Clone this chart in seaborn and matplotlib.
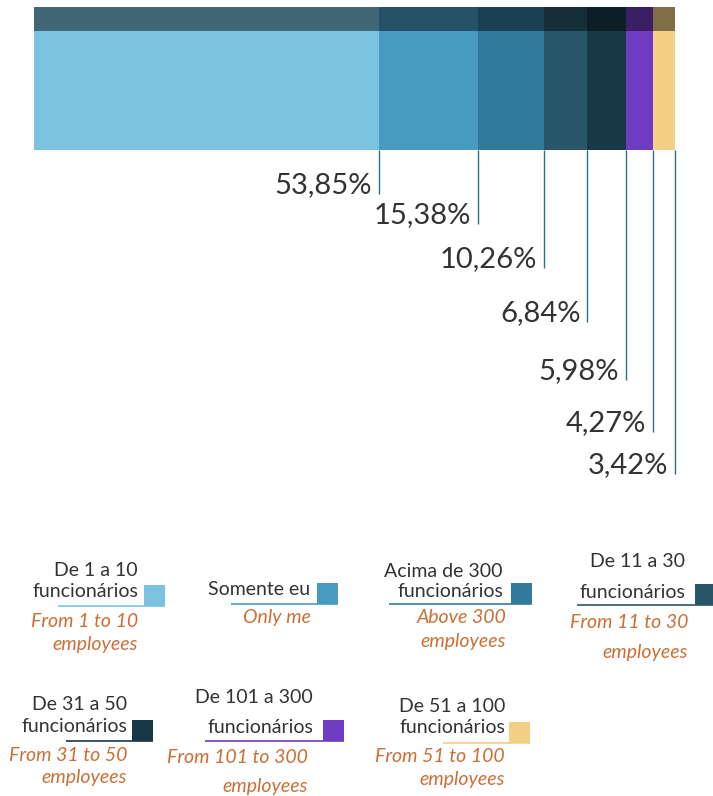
import numpy as np
import pandas as pd
import matplotlib
matplotlib.use("Agg")
import matplotlib.pyplot as plt
import matplotlib.colors as mcolors
from matplotlib.patches import Rectangle
import seaborn as sns

# --- data -------------------------------------------------------------
categories = ["De 1 a 10 funcionários", "Somente eu", "Acima de 300 funcionários",
              "De 11 a 30 funcionários", "De 31 a 50 funcionários",
              "De 101 a 300 funcionários", "De 51 a 100 funcionários"]
values = [53.85, 15.38, 10.26, 6.84, 5.98, 4.27, 3.42]
colors = ["#7AC2E0", "#489BC0", "#307A9B", "#2A5669", "#173847", "#6E3BC2", "#F4D087"]

legend_pt = [["De 1 a 10", "funcionários"], ["Somente eu"],
             ["Acima de 300", "funcionários"], ["De 11 a 30", "funcionários"],
             ["De 31 a 50", "funcionários"], ["De 101 a 300", "funcionários"],
             ["De 51 a 100", "funcionários"]]
legend_en = [["From 1 to 10", "employees"], ["Only me"],
             ["Above 300", "employees"], ["From 11 to 30", "employees"],
             ["From 31 to 50", "employees"], ["From 101 to 300", "employees"],
             ["From 51 to 100", "employees"]]

# --- layout (pixels) ----------------------------------------------------
W, H = 713, 796
BAR_X0, BAR_X1 = 34, 675
STRIP_Y0, BAR_Y0, BAR_Y1 = 7, 31, 150
PX_PER_PCT = (BAR_X1 - BAR_X0) / 100.0
label_baselines = [193, 223, 267, 321, 379, 431, 473]

# per legend entry: text right x, pt baselines, square (x0, y0), underline x0,
# english right x, english baselines
legend_layout = [
    dict(tx=138, pt=[576, 597], sq=(144, 585), ul=58, ex=138, en=[627, 650]),
    dict(tx=310, pt=[595], sq=(317, 583), ul=231, ex=311, en=[623]),
    dict(tx=503, pt=[577, 597], sq=(511, 583), ul=389, ex=506, en=[623, 647]),
    dict(tx=685, pt=[567, 598], sq=(695, 584), ul=577, ex=688, en=[628, 658]),
    dict(tx=127, pt=[710, 732], sq=(132, 720), ul=66, ex=127, en=[761, 783]),
    dict(tx=313, pt=[703, 733], sq=(323, 720), ul=205, ex=308, en=[763, 792]),
    dict(tx=505, pt=[712, 733], sq=(509, 722), ul=443, ex=505, en=[762, 785]),
]
SQ = 21

sns.set_theme(style="white")
plt.rcParams["font.family"] = ["Lato", "DejaVu Sans"]

df = pd.DataFrame({"category": categories, "value": values, "color": colors})
df["end"] = df["value"].cumsum()
df["row"] = "total"
palette = dict(zip(categories, colors))
dark_palette = {k: tuple(np.array(mcolors.to_rgb(c)) * 0.53) for k, c in palette.items()}
draw_order = categories[::-1]  # largest cumulative bar first, smaller ones on top

fig = plt.figure(figsize=(W / 100, H / 100), dpi=100)
fig.patch.set_facecolor("white")


def stacked(ax, pal):
    sns.barplot(data=df, x="end", y="row", hue="category", hue_order=draw_order,
                palette=pal, dodge=False, width=1, errorbar=None, linewidth=0,
                saturation=1, legend=False, ax=ax)
    ax.set_xlim(0, 100)
    ax.set_ylim(0.5, -0.5)
    ax.set_axis_off()


ax_bar = fig.add_axes([BAR_X0 / W, 1 - BAR_Y1 / H, (BAR_X1 - BAR_X0) / W, (BAR_Y1 - BAR_Y0) / H])
stacked(ax_bar, palette)
ax_strip = fig.add_axes([BAR_X0 / W, 1 - BAR_Y0 / H, (BAR_X1 - BAR_X0) / W, (BAR_Y0 - STRIP_Y0) / H])
stacked(ax_strip, dark_palette)

# leader lines and value labels, sharing the bar's percentage scale
ax = fig.add_axes([0, 0, 1, 1])
ax.set_xlim(-BAR_X0 / PX_PER_PCT, (W - BAR_X0) / PX_PER_PCT)
ax.set_ylim(H, 0)
ax.set_axis_off()
line_color = "#2C6E8E"
for end, v, yb in zip(df["end"], df["value"], label_baselines):
    ax.vlines(end, BAR_Y1, yb + 1, color=line_color, lw=1.0)
    ax.text(end - 7 / PX_PER_PCT, yb, f"{v:.2f}%".replace(".", ","), ha="right",
            va="baseline", fontsize=21, color="#333333", fontweight="normal")

# legend
lg = fig.add_axes([0, 0, 1, 1])
lg.set_xlim(0, W)
lg.set_ylim(H, 0)
lg.set_axis_off()
pt_color, en_color = "#333333", "#CC6F36"
for col, pt, en, L in zip(colors, legend_pt, legend_en, legend_layout):
    for line, yb in zip(pt, L["pt"]):
        lg.text(L["tx"], yb, line, ha="right", va="baseline", fontsize=14, color=pt_color)
    sx, sy = L["sq"]
    lg.add_patch(Rectangle((sx, sy), SQ, SQ, facecolor=col, edgecolor="none"))
    lg.plot([L["ul"], sx + SQ], [sy + SQ, sy + SQ], color=col, lw=1.2,
            solid_capstyle="butt")
    for line, yb in zip(en, L["en"]):
        lg.text(L["ex"], yb, line, ha="right", va="baseline", fontsize=14,
                color=en_color, style="italic")

fig.savefig("out.png", dpi=100, facecolor="white")
